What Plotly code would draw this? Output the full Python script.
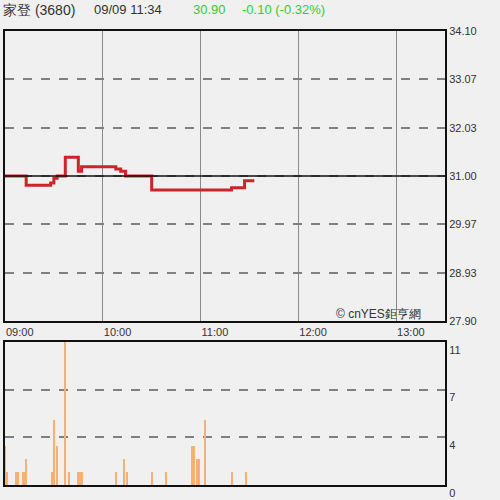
import plotly.graph_objects as go

DATE = "2024-09-09 "
price_times = ["09:00", "09:13", "09:28", "09:30", "09:32", "09:37", "09:45", "09:47",
               "10:08", "10:11", "10:14", "10:30", "11:19", "11:27", "11:33"]
price_values = [31.00, 30.80, 30.85, 30.95, 31.00, 31.40, 31.10, 31.20,
                31.15, 31.10, 31.00, 30.70, 30.75, 30.90, 30.90]

vol_times = ["09:00", "09:01", "09:07", "09:08", "09:11", "09:12", "09:13", "09:29", "09:30",
             "09:32", "09:37", "09:39", "09:45", "09:46", "09:47", "10:08", "10:13", "10:15",
             "10:30", "10:39", "10:55", "10:56", "10:58", "10:59", "11:03", "11:19", "11:28"]
vol_values = [3, 1, 1, 1, 1, 1, 2, 1, 5, 3, 11, 1, 1, 1, 1, 1, 2, 1, 1, 1, 3, 3, 2, 2, 5, 1, 1]

price_ticks = [34.10, 33.07, 32.03, 31.00, 29.97, 28.93, 27.90]
vol_tickvals = [0, 11 / 3, 22 / 3, 11]
vol_ticktext = ["0", "4", "7", "11"]
x_ticks = ["09:00", "10:00", "11:00", "12:00", "13:00"]
ref_price = 31.00

BG = "#f0f0f0"
FONT = "Liberation Sans, Arial, sans-serif"

fig = go.Figure()
fig.add_trace(go.Scatter(
    x=[DATE + t for t in price_times], y=price_values, mode="lines",
    line=dict(color="#cc2428", width=3, shape="hv"),
    xaxis="x", yaxis="y", showlegend=False, hoverinfo="skip"))
fig.add_trace(go.Bar(
    x=[DATE + t for t in vol_times], y=vol_values,
    marker=dict(color="#f7b073", line=dict(width=0)), width=38000,
    xaxis="x2", yaxis="y2", showlegend=False, hoverinfo="skip"))

xr = [DATE + "09:00", DATE + "13:30"]
fig.update_layout(
    width=500, height=500,
    margin=dict(l=5, r=55, t=31, b=15, autoexpand=False),
    paper_bgcolor=BG, plot_bgcolor=BG,
    font=dict(family=FONT, size=11, color="#333333"),
    bargap=0,
    xaxis=dict(domain=[0, 1], anchor="y", range=xr, type="date", automargin=False,
               tickvals=[DATE + t for t in x_ticks], ticktext=x_ticks,
               ticklabelposition="outside right", ticks="", tickfont=dict(size=11, color="#333"),
               showgrid=True, gridcolor="#8a8a8a", gridwidth=1,
               showline=True, linecolor="#111", linewidth=2, mirror=True, zeroline=False),
    yaxis=dict(domain=[0.3612, 1], anchor="x", range=[27.90, 34.10], side="right", automargin=False,
               tickvals=price_ticks, ticktext=[f"{v:.2f}" for v in price_ticks],
               ticks="", tickfont=dict(size=11, color="#333"),
               showgrid=True, gridcolor="#808080", gridwidth=1.5, griddash="dash",
               showline=True, linecolor="#111", linewidth=2, mirror=True, zeroline=False),
    xaxis2=dict(domain=[0, 1], anchor="y2", range=xr, type="date", automargin=False,
                showticklabels=False, ticks="", showgrid=False,
                showline=True, linecolor="#111", linewidth=2, mirror=True, zeroline=False),
    yaxis2=dict(domain=[0, 0.315], anchor="x2", range=[0, 11], side="right", automargin=False,
                tickvals=vol_tickvals, ticktext=vol_ticktext,
                ticklabelposition="outside bottom",
                ticks="", tickfont=dict(size=11, color="#333"),
                showgrid=True, gridcolor="#808080", gridwidth=1.5, griddash="dash",
                showline=True, linecolor="#111", linewidth=2, mirror=True, zeroline=False),
)

fig.add_shape(type="line", xref="x domain", yref="y", x0=0, x1=1, y0=ref_price, y1=ref_price,
              line=dict(color="#111", width=1.5), layer="above")

HY = (31 - 10) / 454 + 1
fig.add_annotation(text="家登 (3680)", xref="paper", yref="paper", x=-0.008, y=HY,
                   xanchor="left", yanchor="middle", showarrow=False,
                   font=dict(size=14, color="#333", family=FONT))
fig.add_annotation(text="09/09 11:34", xref="paper", yref="paper", x=(92 - 5) / 440, y=HY,
                   xanchor="left", yanchor="middle", showarrow=False,
                   font=dict(size=13, color="#333", family=FONT))
fig.add_annotation(text="30.90", xref="paper", yref="paper", x=(191 - 5) / 440, y=HY,
                   xanchor="left", yanchor="middle", showarrow=False,
                   font=dict(size=13, color="#33cc33", family=FONT))
fig.add_annotation(text="-0.10 (-0.32%)", xref="paper", yref="paper", x=(240 - 5) / 440, y=HY,
                   xanchor="left", yanchor="middle", showarrow=False,
                   font=dict(size=13, color="#33cc33", family=FONT))
fig.add_annotation(text="© cnYES鉅亨網", xref="paper", yref="paper", x=(423 - 5) / 440,
                   y=(485 - 314) / 454, xanchor="right", yanchor="middle", showarrow=False,
                   font=dict(size=12, color="#333", family=FONT))

fig.write_html("out.html", config={"displayModeBar": False},
               post_script="document.body.style.margin='0';")
